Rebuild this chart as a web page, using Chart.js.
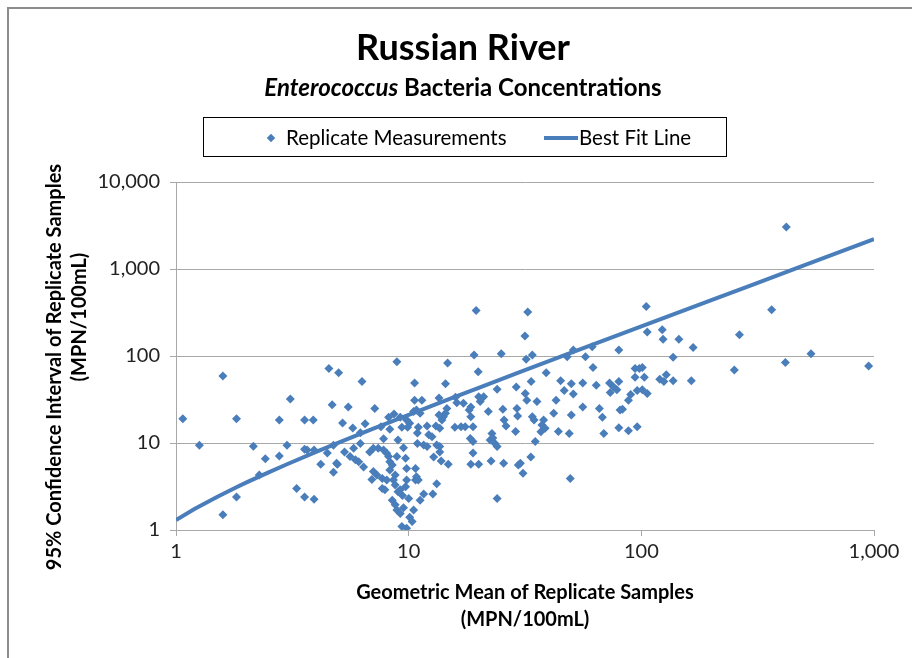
<!DOCTYPE html>
<html>
<head>
<meta charset="utf-8">
<title>Russian River - Enterococcus</title>
<script src="https://cdn.jsdelivr.net/npm/chart.js@4.4.1/dist/chart.umd.min.js"></script>
<style>
  body { margin: 0; background: #fff; }
  #wrap { position: relative; width: 912px; height: 658px; overflow: hidden; font-family: Lato, "Liberation Sans", sans-serif; }
  #frame { position: absolute; left: 7px; top: 7px; width: 1200px; height: 1200px; border-left: 2px solid #8c8c8c; border-top: 2px solid #8c8c8c; }
  #chart { position: absolute; left: 0; top: 0; }
  .head { position: absolute; left: 0; width: 926px; text-align: center; color: #000; font-weight: bold; }
  #title { top: 24px; font-size: 36px; }
  #subtitle { top: 72px; font-size: 24px; }
  #legend { position: absolute; left: 203px; top: 117px; width: 524px; height: 40px; box-sizing: border-box; border: 1px solid #000; font-size: 20.5px; color: #000; }
  .lg { position: absolute; top: 7px; white-space: nowrap; }
  .diamond { position: absolute; left: 268px; top: 135px; width: 6px; height: 6px; background: #4a7ebb; transform: rotate(45deg); }
  .swatch { position: absolute; left: 544px; top: 136px; width: 34px; height: 4px; background: #4a7ebb; }
  .yt { position: absolute; height: 26px; line-height: 26px; text-align: center; font-weight: bold; font-size: 20px; color: #000; transform: rotate(-90deg); white-space: nowrap; }
</style>
</head>
<body>
<div id="wrap">
  <div id="frame"></div>
  <canvas id="chart" width="912" height="658"></canvas>
  <div class="head" id="title">Russian River</div>
  <div class="head" id="subtitle"><i>Enterococcus</i> Bacteria Concentrations</div>
  <div id="legend">
    <span class="lg" style="left:82px">Replicate Measurements</span>
    <span class="lg" style="left:375px">Best Fit Line</span>
  </div>
  <div class="diamond"></div>
  <div class="swatch"></div>
  <div class="yt" style="left:-167px; top:354px; width:440px;">95% Confidence Interval of Replicate Samples</div>
  <div class="yt" style="left:-2px; top:304px; width:160px;">(MPN/100mL)</div>
</div>
<script>
// Geometric mean of replicate samples (MPN/100mL)
const geoMean = [
  1.07, 1.26, 1.59, 1.59, 1.82, 1.82, 2.15, 2.42, 2.28, 2.78,
  2.78, 3.0, 3.1, 3.3, 3.57, 3.92, 3.57, 3.89, 3.57, 3.66,
  3.92, 4.19, 4.54, 5.0, 4.69, 4.75, 4.94, 4.47, 4.75, 5.2,
  5.5, 5.75, 6.3, 6.2, 6.5, 7.15, 8.9, 7.8, 7.6, 8.3,
  8.2, 8.65, 9.2, 9.8, 9.35, 9.9, 10.9, 6.2, 5.8, 5.3,
  5.6, 5.9, 6.4, 7.05, 7.7, 8.05, 6.8, 7.05, 7.4, 7.8,
  8.05, 8.2, 8.3, 8.5, 8.3, 8.75, 8.6, 8.75, 6.95, 7.7,
  7.9, 8.9, 9.7, 9.8, 10.7, 9.8, 10.7, 10.0, 8.5, 8.75,
  8.9, 9.2, 9.35, 9.8, 4.9, 9.7, 10.5, 10.9, 6.1, 7.3,
  9.0, 9.4, 9.0, 9.5, 19.5, 32.5, 31.6, 19.1, 25, 32,
  34, 14.7, 19.9, 48, 51, 61.5, 57.5, 80, 62, 39,
  45, 50, 56, 64, 73, 76, 80, 73.5, 78.5, 94,
  98, 94, 96, 90, 88, 81, 83, 80, 88, 96,
  69, 68, 66, 56, 50, 49, 49.5, 44, 42, 43,
  46.6, 51, 38, 37.4, 38.6, 37, 34, 34.6, 35, 33.5,
  31, 29.6, 30.2, 28.8, 29.2, 29.4, 26.2, 25.7, 25.4, 29,
  33.6, 31.7, 32.2, 35.6, 24, 22, 22.8, 23, 22.4, 23.5,
  24, 22.6, 25.6, 24, 20, 21, 20.3, 18.5, 18.2, 18.5,
  18.9, 18.4, 18.9, 18.9, 18.5, 20, 17.2, 15.8, 16.8, 17.5,
  14.4, 13.5, 14.6, 14.1, 13.9, 13.1, 13.6, 12, 11, 12.2,
  12.6, 13.2, 13.6, 13.6, 12.8, 13.8, 14.8, 13.2, 12.7, 11.6,
  11.2, 11.6, 12, 10.6, 10.6, 11.4, 10.8, 11.2, 10.8, 11,
  9.5, 10.1, 9.2, 13.5, 15.9, 16.1, 14.4, 10.5, 10.1, 10.35,
  420, 105, 363, 106, 123, 124, 145, 167, 137, 264,
  416, 536, 948, 251, 101, 103, 120, 125, 128, 137,
  164, 101, 106
];

// 95% confidence interval of replicate samples (MPN/100mL)
const confInterval = [
  19, 9.4, 59, 1.5, 19, 2.4, 9.2, 6.6, 4.3, 18.4,
  7.1, 9.4, 32, 3.0, 2.4, 2.25, 18.4, 18.4, 8.5, 8.3,
  8.3, 5.7, 72, 64, 27.6, 4.6, 5.7, 7.7, 9.4, 17,
  26, 14.9, 51, 13.1, 16.6, 25, 86, 11.2, 15.4, 14.4,
  19.8, 21.6, 19.8, 18.4, 15.2, 15.2, 9.9, 9.9, 8.7, 7.9,
  7.0, 6.4, 5.3, 4.7, 3.9, 3.75, 7.9, 8.7, 8.7, 8.3,
  7.6, 7.0, 6.1, 5.6, 4.9, 4.3, 3.75, 3.3, 3.8, 3.0,
  2.9, 7.0, 6.7, 5.1, 5.1, 3.75, 3.75, 2.3, 2.2, 1.95,
  1.7, 1.55, 1.1, 1.05, 5.85, 3.15, 1.7, 13, 6.1, 4.3,
  2.75, 2.5, 10.8, 8.8, 333, 321, 170, 103, 106, 92,
  103, 83, 66, 98, 117, 128, 98, 117, 74, 64,
  52, 48, 49, 46, 49, 44, 51, 38, 41, 72,
  72, 57, 40, 36, 31, 24, 24.4, 15, 13.8, 15.4,
  12.9, 19.8, 25, 26, 21, 12.9, 3.9, 13.6, 22, 31,
  40, 36.6, 18.4, 16.1, 14.8, 13.5, 20, 18.4, 10.4, 6.9,
  4.5, 5.6, 5.85, 13.6, 25, 20.5, 15.7, 18.4, 24.4, 44,
  51, 37, 31, 30, 41.5, 23, 12.9, 11.4, 10.8, 9.9,
  9.1, 6.2, 5.85, 2.3, 34, 34, 30, 26, 24, 20,
  15.4, 11.3, 10.4, 7.7, 5.7, 5.7, 28.6, 15.2, 15.4, 15.4,
  48, 33, 25, 20, 18.4, 15.7, 14.8, 15.7, 15.2, 12.4,
  11.8, 9.5, 9.1, 7.9, 6.9, 6.2, 5.7, 3.4, 2.6, 2.6,
  2.2, 9.5, 9.1, 49, 31, 31, 24, 22, 4.1, 3.75,
  1.8, 1.4, 2.9, 21, 33.6, 29, 22, 23, 16.9, 1.25,
  3030, 370, 340, 189, 200, 156, 156, 125, 97, 175,
  84, 106, 77, 69, 74, 57, 54, 51, 61, 52,
  52, 41, 37
];

// Best fit line
const fitMean = [1, 1.2, 1.5, 1.8, 2, 2.5, 3, 4, 5, 7, 10, 15, 20, 30, 50, 70, 100, 200, 300, 500, 700, 1000];
const fitCI = [1.3, 1.74, 2.4, 3.06, 3.5, 4.6, 5.7, 7.9, 10.1, 14.5, 21.1, 32.1, 43.1, 65.1, 109, 153, 219, 439, 659, 1099, 1539, 2199];

// Axis ticks
const xTickValues = [1, 10, 100, 1000];
const xTickLabels = ["1", "10", "100", "1,000"];
const yTickValues = [1, 10, 100, 1000, 10000];
const yTickLabels = ["1", "10", "100", "1,000", "10,000"];

const blue = "#4a7ebb";
const gridGray = "#a8a8a8";

Chart.defaults.font.family = "Lato, 'Liberation Sans', sans-serif";
Chart.defaults.color = "#222";

window.onload = () => {
  const ctx = document.getElementById("chart").getContext("2d");
  new Chart(ctx, {
    type: "scatter",
    data: {
      datasets: [
        {
          label: "Best Fit Line",
          type: "line",
          data: fitMean.map((x, i) => ({ x: x, y: fitCI[i] })),
          borderColor: blue,
          borderWidth: 4,
          pointRadius: 0,
          fill: false,
          tension: 0,
          order: 0,
        },
        {
          label: "Replicate Measurements",
          data: geoMean.map((x, i) => ({ x: x, y: confInterval[i] })),
          pointStyle: "rectRot",
          pointRadius: 4.5,
          backgroundColor: blue,
          borderWidth: 0,
          order: 1,
        },
      ],
    },
    options: {
      responsive: false,
      animation: false,
      devicePixelRatio: 1,
      layout: { padding: { top: 182, right: 38, left: 0, bottom: 0 } },
      plugins: { legend: { display: false }, tooltip: { enabled: false } },
      scales: {
        x: {
          type: "logarithmic",
          min: 1,
          max: 1000,
          afterBuildTicks: (scale) => { scale.ticks = xTickValues.map((v) => ({ value: v })); },
          afterFit: (scale) => { scale.height = 128; },
          ticks: {
            font: { size: 20 },
            padding: 4,
            maxRotation: 0,
            callback: (value, index) => xTickLabels[index],
          },
          grid: { drawOnChartArea: false, color: gridGray, tickLength: 6 },
          border: { color: gridGray },
          title: {
            display: true,
            text: ["Geometric Mean of Replicate Samples", "(MPN/100mL)"],
            font: { size: 20, weight: "bold", lineHeight: 1.35 },
            color: "#000",
            padding: { top: 0, bottom: 25 },
          },
        },
        y: {
          type: "logarithmic",
          min: 1,
          max: 10000,
          afterBuildTicks: (scale) => { scale.ticks = yTickValues.map((v) => ({ value: v })); },
          afterFit: (scale) => { scale.width = 176; },
          ticks: {
            font: { size: 20 },
            padding: 10,
            callback: (value, index) => yTickLabels[index],
          },
          grid: { color: gridGray, tickLength: 6 },
          border: { color: gridGray },
        },
      },
    },
  });
};
</script>
</body>
</html>
